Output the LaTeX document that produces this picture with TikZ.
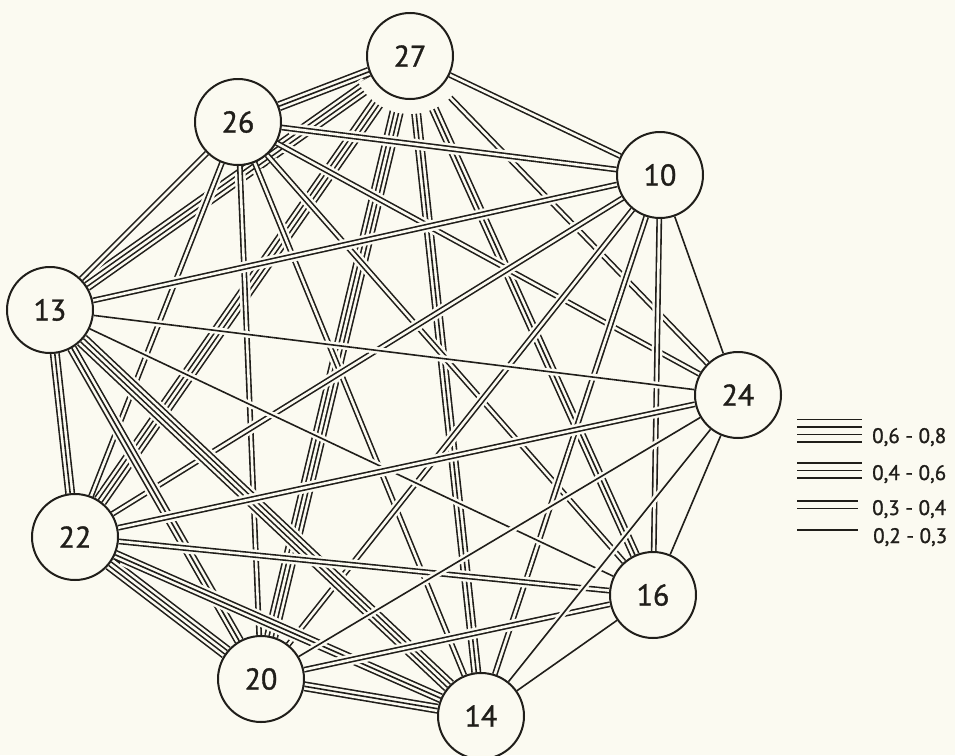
\documentclass[tikz,border=0pt]{standalone}
\usepackage{fontspec}
\setmainfont{PT Sans}
\newfontfamily\lblfont{PT Sans}[FakeBold=1.2]
\definecolor{bg}{RGB}{251,250,241}
\definecolor{ink}{RGB}{32,30,26}
\pgfdeclarelayer{back}
\pgfdeclarelayer{edges}
\pgfdeclarelayer{halo}
\pgfsetlayers{back,edges,halo,main}
\tikzset{
  nd/.style={circle,draw=ink,fill=bg,line width=2pt,minimum size=86pt,inner sep=0pt,
    text=ink,font=\lblfont\fontsize{30}{30}\selectfont},
  lg/.style={text=ink,font=\lblfont\fontsize{21}{21}\selectfont,anchor=base west,inner sep=0pt},
  lgline/.style={draw=ink,line width=1.6pt},
  hl/.style={draw=bg,shorten <=8pt,shorten >=8pt}
}
\newcommand\bund[3]{%
  \begin{pgfonlayer}{edges}
  \ifcase#1\relax\or
    \draw[hl,line width=6.6pt] (#2)--(#3);
    \draw[ink,line width=1.6pt] (#2)--(#3);
  \or
    \draw[hl,line width=10.8pt] (#2)--(#3);
    \draw[ink,line width=5.8pt] (#2)--(#3);
    \draw[bg,line width=2.6pt] (#2)--(#3);
  \or
    \draw[hl,line width=15pt] (#2)--(#3);
    \draw[ink,line width=10pt] (#2)--(#3);
    \draw[bg,line width=6.8pt] (#2)--(#3);
    \draw[ink,line width=1.6pt] (#2)--(#3);
  \or
    \draw[hl,line width=19.2pt] (#2)--(#3);
    \draw[ink,line width=14.2pt] (#2)--(#3);
    \draw[bg,line width=11pt] (#2)--(#3);
    \draw[ink,line width=5.8pt] (#2)--(#3);
    \draw[bg,line width=2.6pt] (#2)--(#3);
  \fi
  \end{pgfonlayer}}
\begin{document}
\begin{tikzpicture}[x=1pt,y=-1pt]
\begin{pgfonlayer}{back}
\fill[bg] (0,0) rectangle (955,755);
\end{pgfonlayer}
\useasboundingbox (0,0) rectangle (955,755);

\node[nd] (n27) at (410,56) {27};
\node[nd] (n26) at (238,122) {26};
\node[nd] (n10) at (660,175) {10};
\node[nd] (n13) at (50,310) {13};
\node[nd] (n24) at (738,395) {24};
\node[nd] (n22) at (75,537) {22};
\node[nd] (n16) at (653,595) {16};
\node[nd] (n20) at (261,679) {20};
\node[nd] (n14) at (481,716) {14};

\bund{3}{n27}{n26}
\bund{2}{n27}{n10}
\bund{4}{n27}{n13}
\bund{4}{n27}{n22}
\bund{4}{n27}{n20}
\bund{3}{n27}{n14}
\bund{3}{n27}{n16}
\bund{2}{n27}{n24}
\bund{2}{n26}{n10}
\bund{2}{n26}{n24}
\bund{2}{n26}{n16}
\bund{2}{n26}{n14}
\bund{2}{n26}{n20}
\bund{2}{n26}{n22}
\bund{2}{n26}{n13}
\bund{2}{n10}{n13}
\bund{2}{n10}{n22}
\bund{2}{n10}{n20}
\bund{2}{n10}{n14}
\bund{2}{n10}{n16}
\bund{1}{n10}{n24}
\bund{1}{n13}{n24}
\bund{1}{n13}{n16}
\bund{4}{n13}{n14}
\bund{3}{n13}{n20}
\bund{3}{n13}{n22}
\bund{2}{n22}{n24}
\bund{2}{n22}{n16}
\bund{4}{n22}{n20}
\bund{3}{n22}{n14}
\bund{1}{n20}{n24}
\bund{2}{n20}{n16}
\bund{3}{n20}{n14}
\bund{1}{n24}{n16}
\bund{1}{n24}{n14}
\bund{1}{n16}{n14}

\begin{pgfonlayer}{halo}
\begin{scope}
\clip (n27.center) -- ++(-88,46) -- ++(-12,154) -- ++(200,0) -- ++(-18,-143) -- cycle;
\fill[bg] (n27.center) circle (58pt);
\end{scope}
\end{pgfonlayer}

% legend
\foreach \y in {419.5,427,434.5,442} \draw[lgline] (797,\y) -- (862,\y);
\foreach \y in {463,470.5,478} \draw[lgline] (797,\y) -- (862,\y);
\foreach \y in {501,508.5} \draw[lgline] (797,\y) -- (858,\y);
\draw[lgline] (797,530) -- (858,530);
\node[lg] (l1) at (872,443) {0,6 - 0,8};
\node[lg] (l2) at (872,480) {0,4 - 0,6};
\node[lg] (l3) at (872,515) {0,3 - 0,4};
\node[lg] (l4) at (873,543) {0,2 - 0,3};
\end{tikzpicture}
\end{document}
